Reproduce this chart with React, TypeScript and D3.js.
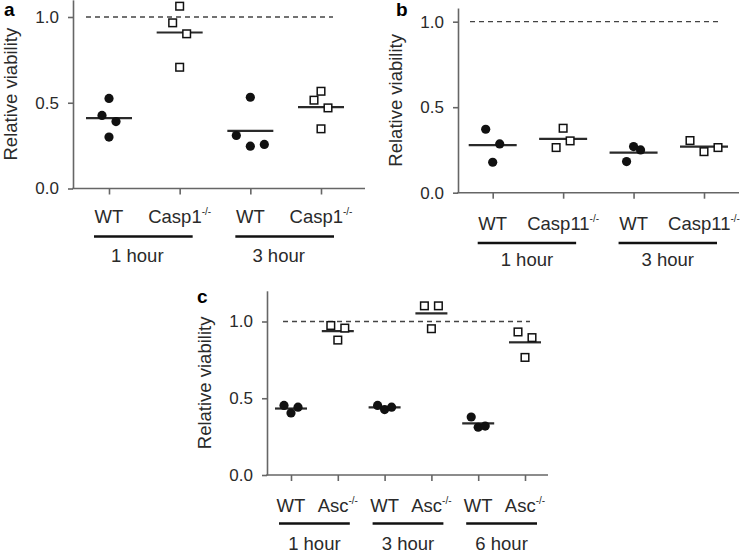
import React, { useEffect, useRef } from "react";
import * as d3 from "d3";

// panel a : Casp1
const aCategories = ["WT", "Casp1", "WT", "Casp1"];
const aGroups = ["1 hour", "3 hour"];
const aWt1h = [0.525, 0.426, 0.39, 0.3];
const aCasp1_1h = [1.063, 0.966, 0.902, 0.707];
const aWt3h = [0.532, 0.309, 0.247, 0.257];
const aCasp1_3h = [0.567, 0.515, 0.47, 0.348];
// beeswarm order of each point (left / centre / right)
const aSwarm = [[0, -1, 1, 0], [0, -1, 1, 0], [0, -2, 0, 2], [0, -1, 1, 0]];

// panel b : Casp11
const bCategories = ["WT", "Casp11", "WT", "Casp11"];
const bGroups = ["1 hour", "3 hour"];
const bWt1h = [0.371, 0.285, 0.178];
const bCasp11_1h = [0.377, 0.264, 0.303];
const bWt3h = [0.27, 0.25, 0.182];
const bCasp11_3h = [0.305, 0.24, 0.264];
const bSwarm = [[-1, 1, 0], [0, -1, 1], [0, 1, -1], [-2, 0, 2]];

// panel c : Asc
const cCategories = ["WT", "Asc", "WT", "Asc", "WT", "Asc"];
const cGroups = ["1 hour", "3 hour", "6 hour"];
const cWt1h = [0.453, 0.404, 0.442];
const cAsc1h = [0.974, 0.957, 0.879];
const cWt3h = [0.453, 0.426, 0.442];
const cAsc3h = [1.102, 1.102, 0.953];
const cWt6h = [0.378, 0.311, 0.319];
const cAsc6h = [0.932, 0.895, 0.766];
const cSwarm = [[-1, 0, 1], [-1, 1, 0], [-1, 0, 1], [-1, 1, 0], [-1, 0, 1], [-1, 1, 0]];

const yTicks = [0, 0.5, 1.0];
const yTitle = "Relative viability";
const koSuffix = "-/-";

const panels = [
  {
    letter: "a", categories: aCategories, groups: aGroups,
    series: [aWt1h, aCasp1_1h, aWt3h, aCasp1_3h], swarm: aSwarm, yMax: 1.1,
    box: { left: 73, right: 365, y0: 188.5, y1: 17, xFirst: 109, xLast: 321,
      dashFrom: 86, dashTo: 333, catY: 223, lineY: 236.5, groupY: 262, groupShift: -6,
      letterX: 4, letterY: 16, meanHalf: 23, lineFrom: -15, lineTo: 13, jitter: 7 },
  },
  {
    letter: "b", categories: bCategories, groups: bGroups,
    series: [bWt1h, bCasp11_1h, bWt3h, bCasp11_3h], swarm: bSwarm, yMax: 1.08,
    box: { left: 458, right: 739, y0: 192.7, y1: 21.7, xFirst: 492.7, xLast: 704,
      dashFrom: 470, dashTo: 719, catY: 230, lineY: 243, groupY: 266, groupShift: 0,
      letterX: 396, letterY: 16, meanHalf: 24, lineFrom: -15, lineTo: 13, jitter: 7 },
  },
  {
    letter: "c", categories: cCategories, groups: cGroups,
    series: [cWt1h, cAsc1h, cWt3h, cAsc3h, cWt6h, cAsc6h], swarm: cSwarm, yMax: 1.2,
    box: { left: 267, right: 548, y0: 475, y1: 321.5, xFirst: 291, xLast: 525,
      dashFrom: 283, dashTo: 530, catY: 511.5, lineY: 523.5, groupY: 549.5, groupShift: 0,
      letterX: 197, letterY: 303, meanHalf: 16, lineFrom: -12, lineTo: 12, jitter: 7 },
  },
];

const FONT = "'Liberation Sans', Arial, Helvetica, sans-serif";
const AXIS = "#666";
const INK = "#2a2a2a";

const App = () => {
  const svgRef = useRef<SVGSVGElement>(null);

  useEffect(() => {
    const svg = d3.select(svgRef.current);
    svg.selectAll("*").remove();

    panels.forEach((p) => {
      const b = p.box;
      const g = svg.append("g");

      const y = d3
        .scaleLinear()
        .domain([0, p.yMax])
        .range([b.y0, b.y0 - (b.y0 - b.y1) * p.yMax]);

      const x = d3
        .scalePoint<number>()
        .domain(d3.range(p.categories.length))
        .range([b.xFirst, b.xLast]);

      // y axis
      const ya = g
        .append("g")
        .attr("transform", `translate(${b.left},0)`)
        .call(
          d3.axisLeft(y).tickValues(yTicks).tickFormat(d3.format(".1f")).tickSize(5).tickPadding(9).tickSizeOuter(0)
        );
      ya.selectAll("path, line").attr("stroke", AXIS).attr("stroke-width", 1.6);
      ya.selectAll("text").attr("font-family", FONT).attr("font-size", 17).attr("fill", INK);

      // x axis
      const xa = g
        .append("g")
        .attr("transform", `translate(0,${b.y0})`)
        .call(d3.axisBottom(x).tickSize(6).tickFormat(() => ""));
      xa.select(".domain").remove();
      xa.selectAll("line").attr("stroke", AXIS).attr("stroke-width", 1.6);
      g.append("line")
        .attr("x1", b.left - 0.8).attr("x2", b.right)
        .attr("y1", b.y0).attr("y2", b.y0)
        .attr("stroke", AXIS).attr("stroke-width", 1.6);

      // reference line at 1.0
      g.append("line")
        .attr("x1", b.dashFrom).attr("x2", b.dashTo)
        .attr("y1", y(1)).attr("y2", y(1))
        .attr("stroke", "#444").attr("stroke-width", 1.3)
        .attr("stroke-dasharray", "5,4");

      // mean bars
      p.series.forEach((vals, i) => {
        const m = d3.mean(vals) as number;
        g.append("line")
          .attr("x1", (x(i) as number) - b.meanHalf).attr("x2", (x(i) as number) + b.meanHalf)
          .attr("y1", y(m)).attr("y2", y(m))
          .attr("stroke", INK).attr("stroke-width", 2.2);
      });

      // points
      p.series.forEach((vals, i) => {
        const ko = p.categories[i] !== "WT";
        const pts = vals.map((v, k) => ({ v, cx: (x(i) as number) + p.swarm[i][k] * b.jitter }));
        if (ko) {
          g.selectAll(null)
            .data(pts)
            .enter()
            .append("rect")
            .attr("x", (d) => d.cx - 3.8)
            .attr("y", (d) => y(d.v) - 3.8)
            .attr("width", 7.6)
            .attr("height", 7.6)
            .attr("fill", "#fff")
            .attr("stroke", "#111")
            .attr("stroke-width", 1.5);
        } else {
          g.selectAll(null)
            .data(pts)
            .enter()
            .append("circle")
            .attr("cx", (d) => d.cx)
            .attr("cy", (d) => y(d.v))
            .attr("r", 4.6)
            .attr("fill", "#111");
        }
      });

      // category labels
      p.categories.forEach((c, i) => {
        const t = g.append("text")
          .attr("x", x(i) as number)
          .attr("y", b.catY)
          .attr("text-anchor", "middle")
          .attr("font-family", FONT)
          .attr("font-size", 18.5)
          .attr("fill", INK);
        t.append("tspan").text(c);
        if (c !== "WT") {
          t.append("tspan").attr("font-size", 10).attr("dy", -8).text(koSuffix);
        }
      });

      // group underlines + labels
      p.groups.forEach((grp, j) => {
        const x0 = (x(j * 2) as number) + b.lineFrom;
        const x1 = (x(j * 2 + 1) as number) + b.lineTo;
        g.append("line")
          .attr("x1", x0).attr("x2", x1)
          .attr("y1", b.lineY).attr("y2", b.lineY)
          .attr("stroke", "#111").attr("stroke-width", 2.4);
        g.append("text")
          .attr("x", (x0 + x1) / 2 + b.groupShift)
          .attr("y", b.groupY)
          .attr("text-anchor", "middle")
          .attr("font-family", FONT)
          .attr("font-size", 18.5)
          .attr("fill", INK)
          .text(grp);
      });

      // y title
      g.append("text")
        .attr("transform", `translate(${b.left - 56},${y(p.yMax / 2)}) rotate(-90)`)
        .attr("text-anchor", "middle")
        .attr("font-family", FONT)
        .attr("font-size", 18.5)
        .attr("fill", INK)
        .text(yTitle);

      // panel letter
      g.append("text")
        .attr("x", b.letterX)
        .attr("y", b.letterY)
        .attr("font-family", FONT)
        .attr("font-weight", "bold")
        .attr("font-size", 19)
        .attr("fill", "#000")
        .text(p.letter);
    });
  }, []);

  return (
    <svg
      ref={svgRef}
      width={745}
      height={552}
      style={{ position: "absolute", left: 0, top: 0, background: "#fff" }}
    ></svg>
  );
};

export default App;
